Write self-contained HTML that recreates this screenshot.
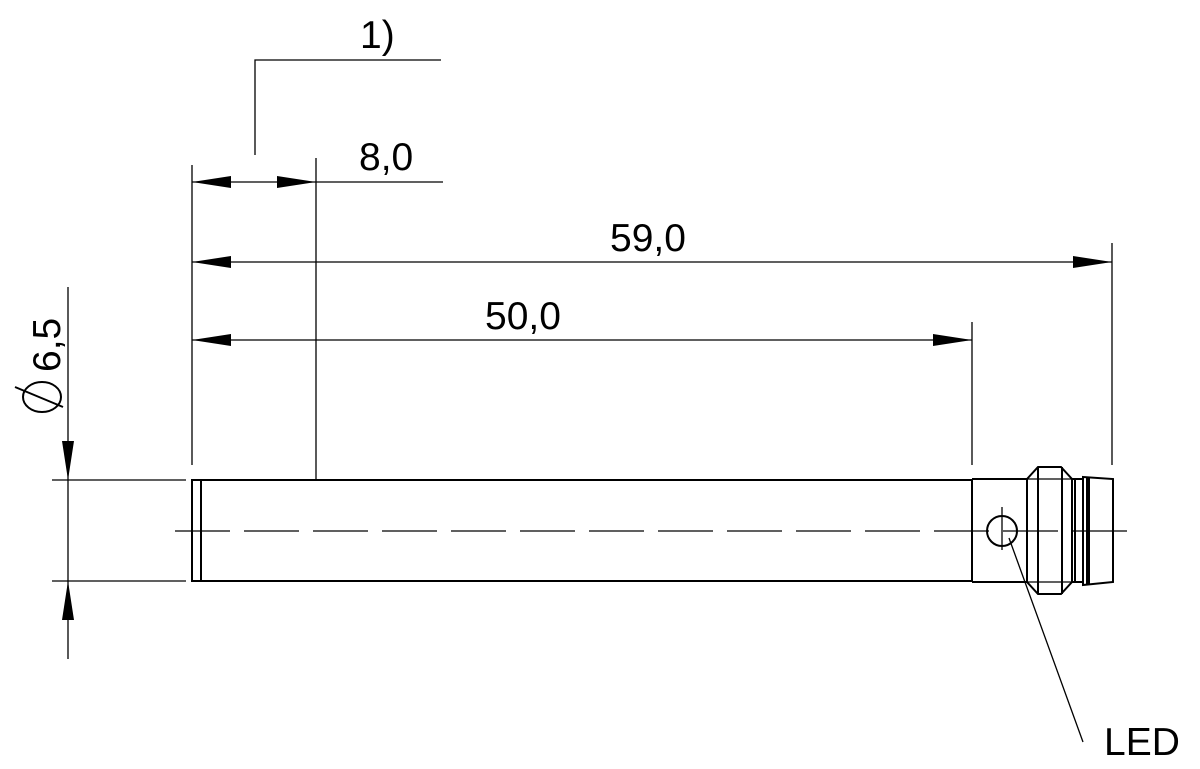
<!DOCTYPE html>
<html><head><style>body{margin:0;background:#fff}svg{display:block}</style></head><body>
<svg width="1200" height="769" viewBox="0 0 1200 769" xmlns="http://www.w3.org/2000/svg" font-family="Liberation Sans, sans-serif">
<g stroke="#000" stroke-width="1.3" fill="none">
<polyline points="255,155 255,60 441,60"/>
<line x1="192" y1="165" x2="192" y2="465"/>
<line x1="316" y1="158" x2="316" y2="480"/>
<line x1="972" y1="322" x2="972" y2="465"/>
<line x1="1112" y1="243" x2="1112" y2="465"/>
<line x1="192" y1="182" x2="443" y2="182"/>
<line x1="192" y1="262" x2="1112" y2="262"/>
<line x1="192" y1="340" x2="972" y2="340"/>
<line x1="68" y1="287" x2="68" y2="659"/>
<line x1="52" y1="480" x2="186" y2="480"/>
<line x1="52" y1="581" x2="186" y2="581"/>
<line x1="175" y1="531" x2="1130" y2="531" stroke-dasharray="55,14"/>
<line x1="1009" y1="538" x2="1083" y2="742"/>
</g>
<g stroke="#000" stroke-width="2" fill="none">
<rect x="192" y="480" width="9" height="101"/>
<line x1="201" y1="480" x2="972" y2="480"/>
<line x1="201" y1="581" x2="972" y2="581"/>
<line x1="972" y1="479" x2="972" y2="582"/>
<line x1="972" y1="479" x2="1027" y2="479"/>
<line x1="972" y1="582" x2="1027" y2="582"/>
<polygon points="1027,479 1038,467 1061,467 1072,479 1072,582 1061,594 1038,594 1027,582"/>
<line x1="1038" y1="467" x2="1038" y2="594"/>
<line x1="1062" y1="467" x2="1062" y2="594"/>
<line x1="1027" y1="479" x2="1072" y2="479" stroke-width="1.2"/>
<line x1="1027" y1="582" x2="1072" y2="582" stroke-width="1.2"/>
<line x1="1072" y1="479" x2="1083" y2="479"/>
<line x1="1072" y1="582" x2="1083" y2="582"/>
<line x1="1075" y1="479" x2="1075" y2="582"/>
<polygon points="1083,477 1113,479 1113,582 1083,585"/>
<line x1="1087" y1="477" x2="1087" y2="585"/>
<line x1="1089" y1="477" x2="1089" y2="585"/>
<circle cx="1002" cy="531" r="15"/>
<ellipse cx="42" cy="397" rx="19" ry="15"/>
</g>
<g stroke="#000" stroke-width="1.3">
<line x1="1002" y1="507" x2="1002" y2="550"/>
<line x1="15" y1="387" x2="63" y2="407" stroke-width="2"/>
</g>
<g fill="#000">
<polygon points="192,182 231,176 231,188"/>
<polygon points="316,182 277,176 277,188"/>
<polygon points="192,262 231,256 231,268"/>
<polygon points="1112,262 1073,256 1073,268"/>
<polygon points="192,340 231,334 231,346"/>
<polygon points="972,340 933,334 933,346"/>
<polygon points="68,480 62,441 74,441"/>
<polygon points="68,581 62,620 74,620"/>
</g>
<g font-size="39" fill="#000">
<text x="360" y="48">1)</text>
<text x="359" y="170">8,0</text>
<text x="610" y="251">59,0</text>
<text x="485" y="329">50,0</text>
<text x="1104" y="755">LED</text>
<text transform="translate(60,372) rotate(-90)">6,5</text>
</g>
</svg>
</body></html>
